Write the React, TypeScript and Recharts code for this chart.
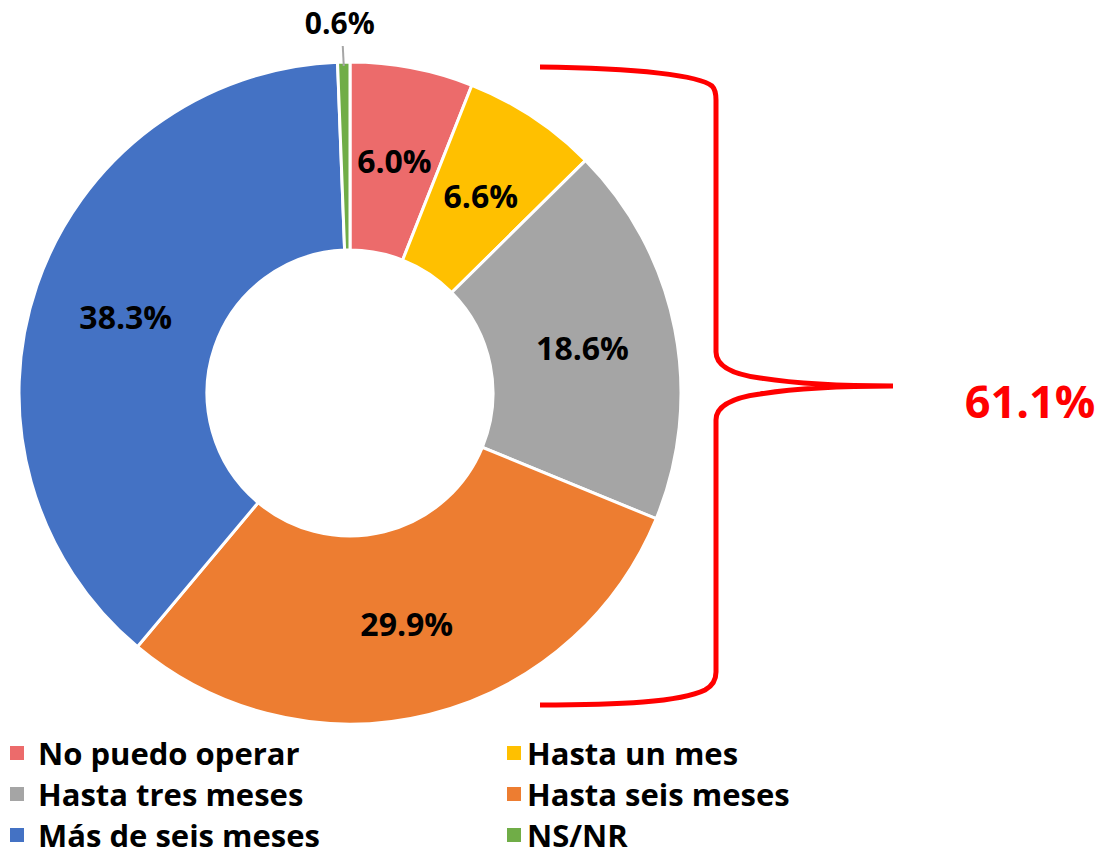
import { PieChart, Pie, Cell, Customized } from 'recharts';

const categories = [
  'No puedo operar',
  'Hasta un mes',
  'Hasta tres meses',
  'Hasta seis meses',
  'Más de seis meses',
  'NS/NR',
];
const shares = [6.0, 6.6, 18.6, 29.9, 38.3, 0.6];
const colors = ['#EC6B6B', '#FFC000', '#A5A5A5', '#ED7D31', '#4472C4', '#70AD47'];
const bracketTotal = '61.1%';

const data = categories.map((name, i) => ({ name, value: shares[i] }));

const FONT = '"Open Sans", Lato, sans-serif';
const RADIAN = Math.PI / 180;

const renderLabel = (props: any) => {
  const { cx, cy, midAngle, innerRadius, outerRadius, value, index } = props;
  const text = `${Number(value).toFixed(1)}%`;
  if (index === categories.length - 1) {
    // small slice: label outside with a leader line
    const x0 = cx + outerRadius * Math.cos(-midAngle * RADIAN);
    const y0 = cy + outerRadius * Math.sin(-midAngle * RADIAN);
    return (
      <g>
        <line x1={x0} y1={y0 + 4} x2={x0 - 1} y2={y0 - 16} stroke="#A6A6A6" strokeWidth={2} />
        <text
          x={x0 - 4}
          y={y0 - 40}
          textAnchor="middle"
          dominantBaseline="central"
          fontFamily={FONT}
          fontWeight={700}
          fontSize={30}
          fill="#000"
        >
          {text}
        </text>
      </g>
    );
  }
  const r = (innerRadius + outerRadius) / 2;
  const x = cx + r * Math.cos(-midAngle * RADIAN);
  const y = cy + r * Math.sin(-midAngle * RADIAN);
  return (
    <text
      x={x}
      y={y}
      textAnchor="middle"
      dominantBaseline="central"
      fontFamily={FONT}
      fontWeight={700}
      fontSize={32}
      fill="#000"
    >
      {text}
    </text>
  );
};

const Brace = () => (
  <g>
    <path
      d="M540,67 C640,68 700,76 712,86 Q716,90 716,100 L716,352 Q716,372 760,378 Q810,386 893,386 M893,386 Q810,386 760,394 Q716,400 716,420 L716,672 Q716,684 705,690 C680,702 620,705 540,705"
      fill="none"
      stroke="#FF0000"
      strokeWidth={5}
    />
    <text
      x={1030}
      y={400}
      textAnchor="middle"
      dominantBaseline="central"
      fontFamily={FONT}
      fontWeight={700}
      fontSize={45}
      fill="#FF0000"
    >
      {bracketTotal}
    </text>
  </g>
);

export default function App() {
  return (
    <div style={{ position: 'absolute', left: 0, top: 0, width: 1101, height: 856, background: '#fff' }}>
      <PieChart width={1101} height={856} margin={{ top: 0, right: 0, bottom: 0, left: 0 }}>
        <Pie
          data={data}
          dataKey="value"
          nameKey="name"
          cx={350}
          cy={393}
          innerRadius={143}
          outerRadius={331}
          startAngle={90}
          endAngle={-270}
          stroke="#fff"
          strokeWidth={3}
          label={renderLabel}
          labelLine={false}
          isAnimationActive={false}
        >
          {data.map((d, i) => (
            <Cell key={d.name} fill={colors[i]} />
          ))}
        </Pie>
        <Customized component={Brace} />
      </PieChart>
      <div
        style={{
          position: 'absolute',
          left: 10,
          top: 737,
          display: 'grid',
          gridTemplateColumns: '497px 400px',
          rowGap: 9,
          fontFamily: FONT,
          fontWeight: 700,
          fontSize: 31,
          lineHeight: '32px',
          color: '#000',
        }}
      >
        {categories.map((c, i) => (
          <div key={c} style={{ display: 'flex', alignItems: 'center', height: 32, whiteSpace: 'nowrap' }}>
            <span
              style={{
                width: 14,
                height: 14,
                background: colors[i],
                display: 'inline-block',
                marginRight: i % 2 === 0 ? 14 : 6,
              }}
            />
            {c}
          </div>
        ))}
      </div>
    </div>
  );
}
